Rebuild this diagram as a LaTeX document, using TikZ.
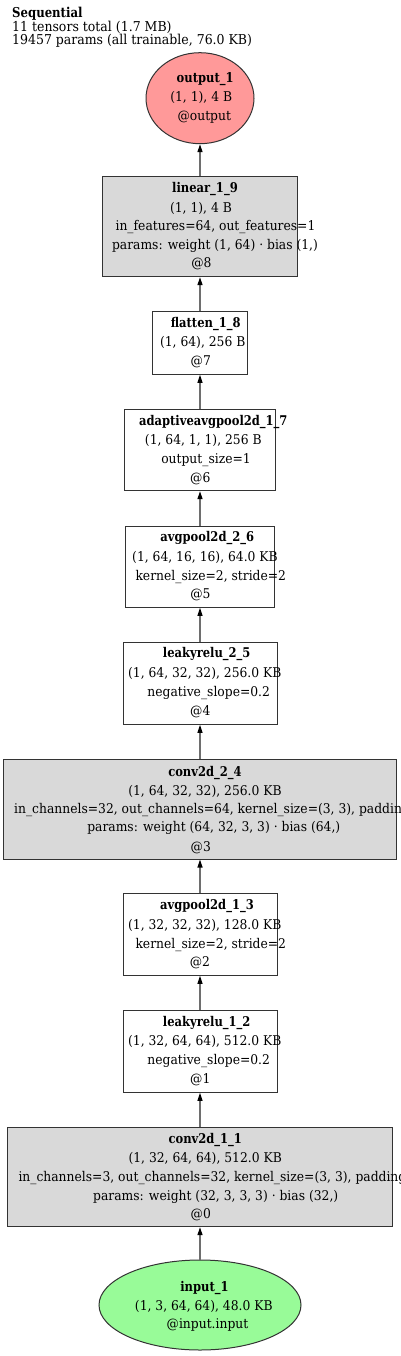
\documentclass[tikz,border=0pt]{standalone}
\usepackage{fontspec}
\setmainfont{DejaVu Serif}[FakeStretch=0.92,BoldFeatures={FakeStretch=0.86}]
\usetikzlibrary{shapes.geometric,arrows.meta}
\definecolor{boxgray}{HTML}{D9D9D9}
\definecolor{outred}{HTML}{FF9999}
\definecolor{ingreen}{HTML}{98FB98}
\definecolor{edgegray}{HTML}{6E6E6E}
\definecolor{linecol}{HTML}{333333}
\newcommand\TL[4]{\node[tline] (#1) at (#2,#3+4.5) {#4};}
\newcommand\TW[4]{\node[tlinew] (#1) at (#2,#3+4.5) {#4};}
\newcommand\HL[4]{\node[hline] (#1) at (#2,#3+4.5) {#4};}
\begin{document}
\begin{tikzpicture}[x=1pt,y=-1pt,
 tline/.style={anchor=base, inner sep=0pt, font=\fontsize{13.4}{16}\selectfont, text=black},
 tlinew/.style={tline, anchor=base west},
 hline/.style={anchor=base west, inner sep=0pt, font=\fontsize{13.6}{16}\selectfont, text=black},
 plainbox/.style={draw=linecol, line width=1pt, rectangle, inner sep=0pt, fill=white},
 graybox/.style={plainbox, fill=boxgray},
 oval/.style={draw=linecol, line width=1pt, ellipse, inner sep=0pt},
 link/.style={draw=edgegray, line width=1.2pt, -{Triangle[length=8pt,width=5pt,black]}}
]
\useasboundingbox (0,0) rectangle (400,1356);
\clip (0,0) rectangle (400,1356);

% shapes
\node[oval, fill=outred, minimum width=108pt, minimum height=91pt] (output) at (200,98.2) {};
\node[graybox, minimum width=195pt, minimum height=100pt] (linear) at (200,226.7) {};
\node[plainbox, minimum width=95pt, minimum height=62.6pt] (flatten) at (200,343) {};
\node[plainbox, minimum width=151.7pt, minimum height=81.4pt] (adaptive) at (200,450) {};
\node[plainbox, minimum width=149.4pt, minimum height=81pt] (avgB) at (200,566.8) {};
\node[plainbox, minimum width=154pt, minimum height=82.3pt] (reluB) at (200,683.2) {};
\node[graybox, minimum width=393pt, minimum height=100pt] (convB) at (200,809) {};
\node[plainbox, minimum width=154pt, minimum height=82pt] (avgA) at (200,934.3) {};
\node[plainbox, minimum width=154pt, minimum height=82pt] (reluA) at (200,1051.3) {};
\node[graybox, minimum width=385.4pt, minimum height=99.4pt] (convA) at (200,1177) {};
\node[oval, fill=ingreen, minimum width=202pt, minimum height=90pt] (input) at (200,1305) {};

% connectors
\draw[link] (linear.north) -- (output.south);
\draw[link] (flatten.north) -- (linear.south);
\draw[link] (adaptive.north) -- (flatten.south);
\draw[link] (avgB.north) -- (adaptive.south);
\draw[link] (reluB.north) -- (avgB.south);
\draw[link] (convB.north) -- (reluB.south);
\draw[link] (avgA.north) -- (convB.south);
\draw[link] (reluA.north) -- (avgA.south);
\draw[link] (convA.north) -- (reluA.south);
\draw[link] (input.north) -- (convA.south);

% header
\HL{s1}{12}{13.3}{\textbf{Sequential}}
\HL{s2}{12}{26.7}{11 tensors total (1.7 MB)}
\HL{s3}{12}{40}{19457 params (all trainable, 76.0 KB)}

% output
\TL{o1}{205.2}{78.3}{\textbf{output\_1}}
\TL{o2}{201.2}{97.3}{(1, 1), 4 B}
\TL{o3}{204.3}{115.7}{@output}

% linear
\TL{l1}{205}{188.3}{\textbf{linear\_1\_9}}
\TL{l2}{201}{207.7}{(1, 1), 4 B}
\TL{l3}{215.5}{226}{in\_features=64, out\_features=1}
\TL{l4}{215}{245}{params: weight (1, 64) · bias (1,)}
\TL{l5}{201.5}{263.3}{@8}

% flatten
\TL{f1}{205.7}{323.3}{\textbf{flatten\_1\_8}}
\TL{f2}{202.7}{342.3}{(1, 64), 256 B}
\TL{f3}{200.8}{361}{@7}

% adaptive
\TL{a1}{213.3}{420.7}{\textbf{adaptiveavgpool2d\_1\_7}}
\TL{a2}{203.3}{440.2}{(1, 64, 1, 1), 256 B}
\TL{a3}{206}{459}{output\_size=1}
\TL{a4}{200.3}{478}{@6}

% avgpool2d_2_6
\TL{b1}{207.3}{537.3}{\textbf{avgpool2d\_2\_6}}
\TL{b2}{205}{557}{(1, 64, 16, 16), 64.0 KB}
\TL{b3}{210.8}{575.5}{kernel\_size=2, stride=2}
\TL{b4}{200.5}{594}{@5}

% leakyrelu_2_5
\TL{c1}{206.7}{653.3}{\textbf{leakyrelu\_2\_5}}
\TL{c2}{204.8}{673}{(1, 64, 32, 32), 256.0 KB}
\TL{c3}{208.7}{692}{negative\_slope=0.2}
\TL{c4}{200.3}{711}{@4}

% conv2d_2_4
\TL{d1}{205}{771.7}{\textbf{conv2d\_2\_4}}
\TL{d2}{205}{790.7}{(1, 64, 32, 32), 256.0 KB}
\TW{d3}{14}{809.3}{in\_channels=32, out\_channels=64, kernel\_size=(3, 3), padding}
\TL{d4}{213.8}{827.3}{params: weight (64, 32, 3, 3) · bias (64,)}
\TL{d5}{200.8}{846.7}{@3}

% avgpool2d_1_3
\TL{e1}{207}{905.3}{\textbf{avgpool2d\_1\_3}}
\TL{e2}{204.8}{925}{(1, 32, 32, 32), 128.0 KB}
\TL{e3}{210.8}{943.5}{kernel\_size=2, stride=2}
\TL{e4}{200}{962}{@2}

% leakyrelu_1_2
\TL{g1}{206.7}{1021.6}{\textbf{leakyrelu\_1\_2}}
\TL{g2}{204.8}{1041.3}{(1, 32, 64, 64), 512.0 KB}
\TL{g3}{208.7}{1060.3}{negative\_slope=0.2}
\TL{g4}{200.3}{1079.3}{@1}

% conv2d_1_1
\TL{h1}{205.3}{1139.3}{\textbf{conv2d\_1\_1}}
\TL{h2}{205.2}{1158.3}{(1, 32, 64, 64), 512.0 KB}
\TW{h3}{18.3}{1176.7}{in\_channels=3, out\_channels=32, kernel\_size=(3, 3), padding}
\TL{h4}{215.7}{1195.7}{params: weight (32, 3, 3, 3) · bias (32,)}
\TL{h5}{200.8}{1214.3}{@0}

% input
\TL{i1}{204.5}{1286.7}{\textbf{input\_1}}
\TL{i2}{203.8}{1306}{(1, 3, 64, 64), 48.0 KB}
\TL{i3}{207.5}{1324.3}{@input.input}
\end{tikzpicture}
\end{document}
